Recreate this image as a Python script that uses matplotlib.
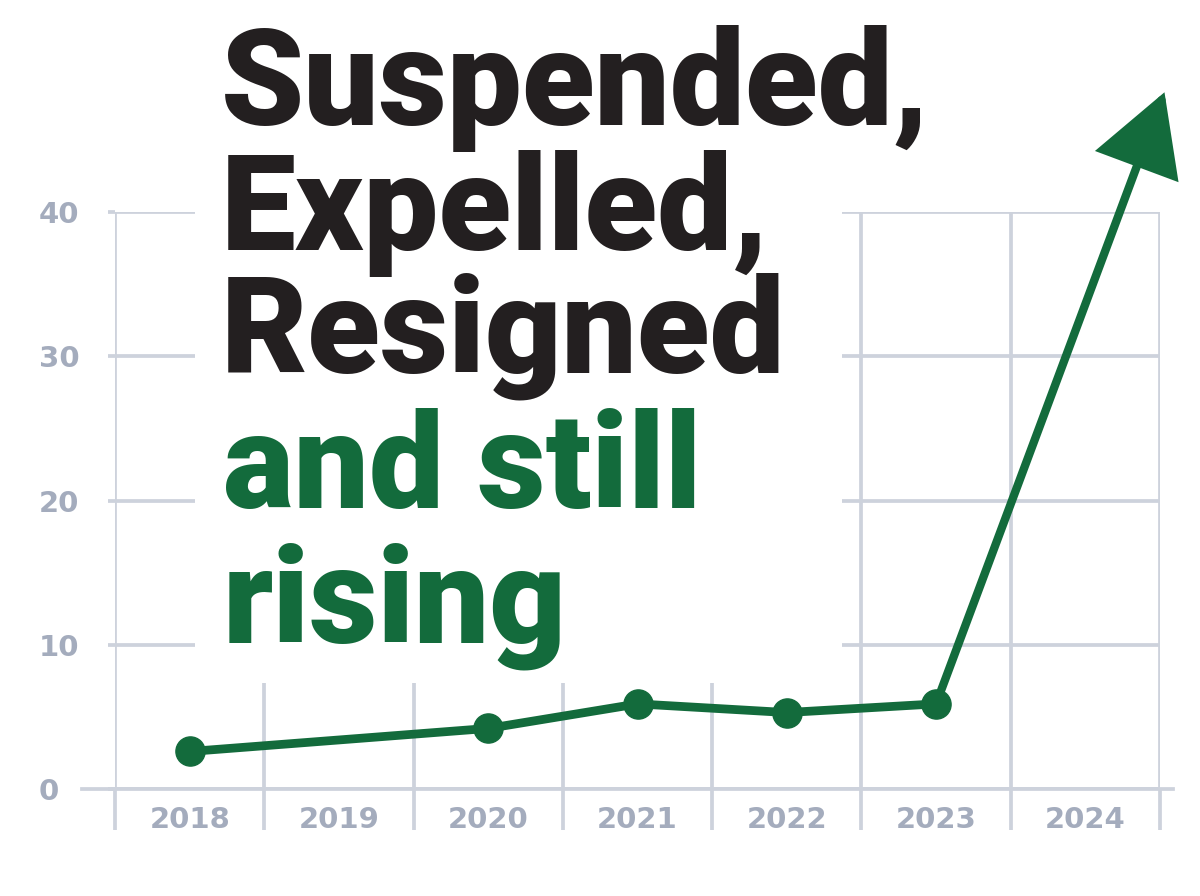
import matplotlib.pyplot as plt
from matplotlib.patches import Rectangle

# data
years = ["2018", "2019", "2020", "2021", "2022", "2023", "2024"]
point_pos = [0, 2, 3, 4, 5]          # 2019 has no marker
point_values = [2.6, 4.2, 5.9, 5.3, 5.9]
arrow_pos = 6.53                      # arrow tip runs past 2024
arrow_value = 48.3
yticks = [0, 10, 20, 30, 40]
title_black = ["Suspended,", "Expelled,", "Resigned"]
title_green = ["and still", "rising"]

GREEN = "#136b3c"
GRID = "#cdd2dc"
LABEL = "#a4acbd"

W, H = 1200, 896
fig = plt.figure(figsize=(W / 100, H / 100), dpi=100)
ax = fig.add_axes([115 / W, 1 - 789 / H, 1045 / W, 577 / H])
ax.set_xlim(-0.5, 6.5)
ax.set_ylim(0, 40)
for s in ax.spines.values():
    s.set_visible(False)

# grid: horizontal on the y ticks, vertical between the years
ax.set_yticks(yticks)
ax.set_xticks(range(len(years)))
ax.set_xticks([i - 0.5 for i in range(len(years) + 1)], minor=True)
ax.set_xticklabels(years)
ax.set_axisbelow(True)
ax.grid(axis="y", which="major", color=GRID, lw=2.7)
ax.grid(axis="x", which="minor", color=GRID, lw=2.7)
ax.grid(axis="x", which="major", visible=False)

ax.tick_params(axis="x", which="major", length=0, pad=12,
               labelsize=21, labelcolor=LABEL)
ax.tick_params(axis="x", which="minor", direction="out", length=29.5,
               width=2.7, color=GRID)
ax.tick_params(axis="y", direction="out", length=5, width=2.7, color=GRID,
               pad=50, labelsize=21, labelcolor=LABEL)
for lab in ax.get_xticklabels() + ax.get_yticklabels():
    lab.set_fontweight("bold")
for lab in ax.get_yticklabels():
    lab.set_horizontalalignment("left")

# baseline runs a bit past both sides
ax.plot([-0.032, 1.012], [0, 0], transform=ax.get_yaxis_transform(),
        color=GRID, lw=2.7, clip_on=False, zorder=1)

# white block behind the headline hides the grid
fig.patches.append(Rectangle((195 / W, 1 - 683 / H), 647 / W, 683 / H,
                             transform=fig.transFigure, facecolor="white",
                             edgecolor="none", zorder=1))

# the series
ax.plot(point_pos, point_values, color=GREEN, lw=6.3, marker="o",
        markersize=21, zorder=5, solid_capstyle="round")
ax.annotate("", xy=(arrow_pos, arrow_value),
            xytext=(point_pos[-1], point_values[-1]),
            arrowprops=dict(arrowstyle="-|>,head_length=4.8,head_width=2.7",
                            mutation_scale=10, color=GREEN, lw=6,
                            shrinkA=0, shrinkB=0, joinstyle="miter"),
            annotation_clip=False, zorder=5)

# headline
font = ["Roboto", "DejaVu Sans"]
for txt, b in zip(title_black, [125, 250, 373]):
    fig.text(221 / W, 1 - b / H, txt, family=font, fontweight="black",
             fontsize=96, color="#231f20", va="baseline", ha="left", zorder=6)
for txt, b in zip(title_green, [508, 642]):
    fig.text(223 / W, 1 - b / H, txt, family=font, fontweight="black",
             fontsize=96, color=GREEN, va="baseline", ha="left", zorder=6)

fig.savefig("out.png", dpi=100)
